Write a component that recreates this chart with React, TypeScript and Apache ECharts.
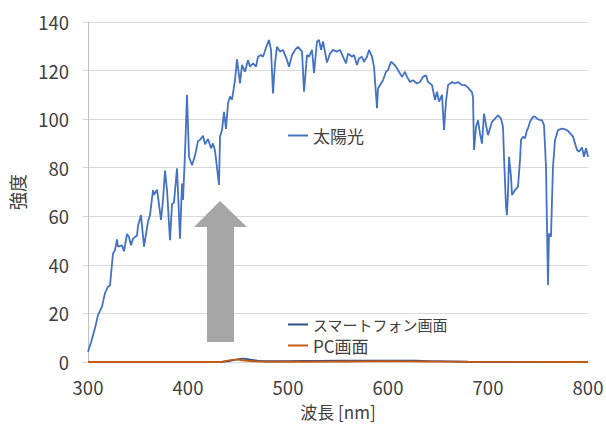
import React, { useEffect, useRef } from "react";
import * as echarts from "echarts";

const sunNm = [300,303,307,310,314,317,320,322,325,327,329,330,334,336,339,341,343,345,349,350,353,356,360,362,365,366,369,370,373,375,377,379,382,384,386,389,392,394,395,397,399,401,404,407,410,412,415,417,420,423,425,427,431,432,434,436,438,440,442,444,447,449,452,454,457,460,462,465,468,470,473,475,479,481,483,485,487,489,492,495,499,501,504,507,510,514,516,519,521,524,526,529,531,533,535,539,542,545,549,552,555,558,560,564,566,569,571,574,576,579,581,584,586,589,590,593,595,598,600,603,605,608,611,614,617,619,622,625,629,632,635,638,640,644,647,649,651,654,656,658,660,664,667,670,674,677,680,684,685,686,688,690,692,694,696,698,700,704,707,710,713,715,716,718,719,720,721,723,724,727,730,732,733,735,737,739,740,742,745,747,750,754,756,758,759,760,761,763,764,765,767,770,774,777,780,785,789,791,794,796,798,800];
const sunVal = [4.2,8,14,19.3,22.8,28.4,31,31.5,44.7,46,50.5,47.5,48,45.6,52.7,51.5,48.1,50.8,52.1,56,60.5,47.5,57.8,60.5,70.8,68.8,71,68,58.5,66.7,78.8,70.8,50.2,65,65.7,79.7,50.8,73.5,66.7,86,110,84.5,81,85,91,91.4,93.2,89.6,91.8,88,90,87,72.9,92.8,95.5,103,96,106.5,109.3,108,116,124.6,114.7,122.3,119.5,124.3,121.6,123,121.6,125.7,126.4,125.7,130.5,132.6,128.5,110.6,123,129.8,127.8,128.5,124.3,121.6,126.4,128.5,129.8,127.8,111.3,126.4,125.7,128.5,118.9,131.9,132.6,128.5,132,123.3,127,128.5,127.8,128.5,125.7,123,127,125.7,126.4,122.3,125,125.7,123.6,125.7,128.5,125.7,121.6,104.5,112.7,114.7,116,119.5,120.2,123.6,123,121.6,119.5,117.4,119.5,117.4,115.3,116,114.7,115.3,117.4,118.1,115.3,114,107.9,111.3,107.2,110,95.5,107.2,114,115.3,114.7,115.3,114,114,113,111,109,87.3,96.8,99.5,94,89.9,102.3,97.5,93.4,98.9,100.2,101.6,100.2,96.8,84.5,64,60.5,69.5,84.5,76.3,68.8,70.8,72.2,83.2,91.4,92.8,92.1,95.5,96.1,98.9,101,101,99.9,99.5,97.5,80.4,55.7,31.7,52.9,51.6,66.7,80.4,91.4,95.5,96.1,95.8,95.2,92.8,87.3,86.6,88.3,84.5,88,84.5];

const phoneNm = [300,430,440,448,455,462,470,480,500,530,570,610,640,680,700,800];
const phoneVal = [0,0,0.3,1.0,1.4,1.0,0.5,0.3,0.4,0.5,0.6,0.6,0.4,0.1,0,0];

const pcNm = [300,430,440,447,455,465,480,520,560,600,640,680,800];
const pcVal = [0,0,0.6,1.0,0.7,0.3,0.1,0.1,0.2,0.3,0.2,0.05,0];

const seriesNames = ["太陽光", "スマートフォン画面", "PC画面"];
const xTitle = "波長 [nm]";
const yTitle = "強度";

const pairs = (xs: number[], ys: number[]) => xs.map((x, i) => [x, ys[i]]);

const FONT = "'Noto Sans CJK JP', 'Noto Sans', sans-serif";

export default function App() {
  const ref = useRef<HTMLDivElement>(null);
  useEffect(() => {
    if (!ref.current) return;
    const chart = echarts.init(ref.current, undefined, { renderer: "svg", width: 606, height: 425 });
    const legendBase = (size: number) => ({
      orient: "vertical" as const,
      icon: "rect",
      itemWidth: 20,
      itemHeight: 2,
      padding: 0,
      textStyle: { fontFamily: FONT, fontSize: size, color: "#404040", lineHeight: size },
      selectedMode: false,
    });
    chart.setOption({
      animation: false,
      backgroundColor: "#ffffff",
      textStyle: { fontFamily: FONT },
      grid: {
        left: 88,
        right: 18,
        top: 22,
        bottom: 63,
        containLabel: false,
        outerBoundsMode: "none",
      },
      legend: [
        { ...legendBase(17), data: [seriesNames[0]], left: 288, top: 127 },
        { ...legendBase(15), data: [seriesNames[1]], left: 288, top: 317 },
        { ...legendBase(17), data: [seriesNames[2]], left: 288, top: 337 },
      ],
      xAxis: {
        type: "value",
        min: 300,
        max: 800,
        interval: 100,
        name: xTitle,
        nameLocation: "middle",
        nameGap: 41,
        nameTextStyle: { fontFamily: FONT, fontSize: 17, color: "#404040", lineHeight: 17 },
        axisLine: { show: true, lineStyle: { color: "#d9d9d9", width: 1 } },
        axisTick: { show: false },
        splitLine: { show: false },
        axisLabel: { fontFamily: FONT, fontSize: 18.5, color: "#404040", margin: 16 },
      },
      yAxis: {
        type: "value",
        min: 0,
        max: 140,
        interval: 20,
        name: yTitle,
        nameLocation: "middle",
        nameGap: 62,
        nameRotate: 90,
        nameTextStyle: { fontFamily: FONT, fontSize: 18, color: "#404040" },
        axisLine: { show: true, lineStyle: { color: "#bfbfbf", width: 1 } },
        axisTick: { show: true, length: 6, lineStyle: { color: "#d9d9d9" } },
        splitLine: { show: true, lineStyle: { color: "#d9d9d9", width: 1 } },
        axisLabel: { fontFamily: FONT, fontSize: 18.5, color: "#404040", margin: 19 },
      },
      series: [
        {
          name: seriesNames[0],
          type: "line",
          data: pairs(sunNm, sunVal),
          symbol: "none",
          lineStyle: { color: "#4472c4", width: 1.8 },
          itemStyle: { color: "#4472c4" },
          z: 3,
        },
        {
          name: seriesNames[1],
          type: "line",
          data: pairs(phoneNm, phoneVal),
          symbol: "none",
          smooth: true,
          lineStyle: { color: "#2f4f8f", width: 1.8 },
          itemStyle: { color: "#2f4f8f" },
          z: 3,
        },
        {
          name: seriesNames[2],
          type: "line",
          data: pairs(pcNm, pcVal),
          symbol: "none",
          smooth: true,
          lineStyle: { color: "#c55a11", width: 1.8 },
          itemStyle: { color: "#c55a11" },
          z: 4,
        },
      ],
      graphic: [
        {
          type: "polygon",
          z: 10,
          shape: {
            points: [
              [220, 201],
              [247, 227],
              [234, 227],
              [234, 342],
              [207, 342],
              [207, 227],
              [194, 227],
            ],
          },
          style: { fill: "#a6a6a6" },
        },
      ],
    });
    return () => chart.dispose();
  }, []);
  return (
    <div
      ref={ref}
      style={{ position: "fixed", left: 0, top: 0, width: 606, height: 425 }}
    />
  );
}
